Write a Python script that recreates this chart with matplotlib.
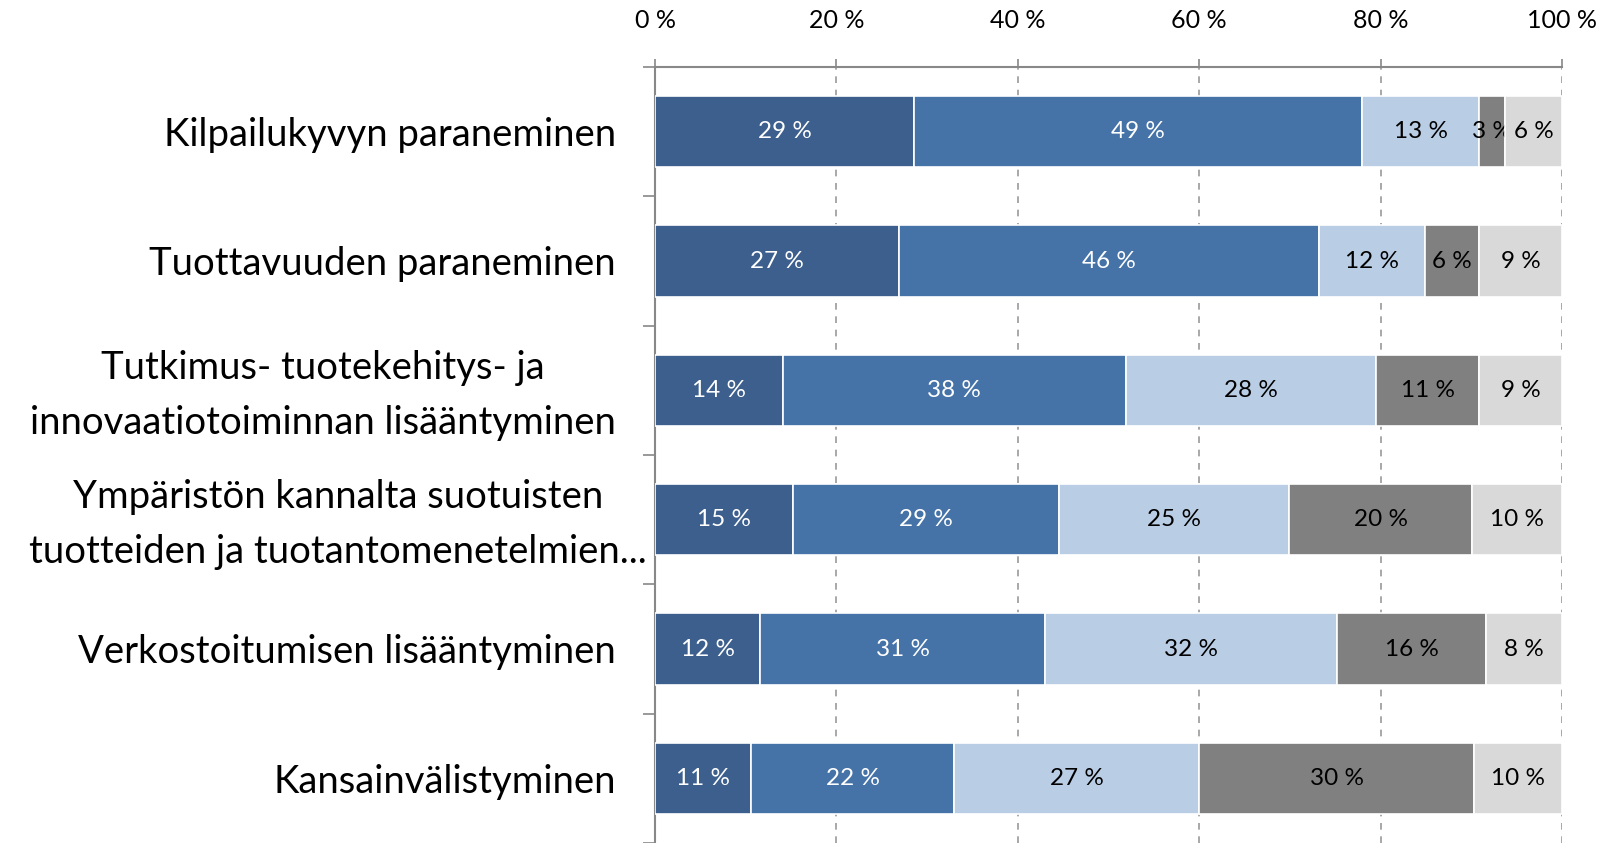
import matplotlib
matplotlib.use("Agg")
import matplotlib.pyplot as plt
import matplotlib.transforms as mtransforms
import numpy as np

plt.rcParams['font.family'] = ['Lato', 'DejaVu Sans']

categories = ["Kilpailukyvyn paraneminen",
              "Tuottavuuden paraneminen",
              "Tutkimus- tuotekehitys- ja\ninnovaatiotoiminnan lisääntyminen",
              "Ympäristön kannalta suotuisten\ntuotteiden ja tuotantomenetelmien...",
              "Verkostoitumisen lisääntyminen",
              "Kansainvälistyminen"]

# shares (%) per answer class
s1 = [28.6, 26.9, 14.1, 15.2, 11.6, 10.6]
s2 = [49.4, 46.3, 37.8, 29.3, 31.4, 22.4]
s3 = [12.9, 11.7, 27.6, 25.4, 32.2, 27.0]
s4 = [2.8, 6.0, 11.4, 20.2, 16.4, 30.3]
s5 = [6.3, 9.1, 9.1, 9.9, 8.4, 9.7]

series = [s1, s2, s3, s4, s5]
colors = ["#3C5F8D", "#4573A7", "#B9CDE5", "#808080", "#D9D9D9"]
text_colors = ["white", "white", "black", "black", "black"]

fig = plt.figure(figsize=(16.01, 8.43), dpi=100)
ax = fig.add_axes([655/1601, 0, (1562-655)/1601, 1-67/843])

y = np.arange(len(categories))
left = np.zeros(len(categories))
for vals, c, tc in zip(series, colors, text_colors):
    vals = np.array(vals)
    bars = ax.barh(y, vals, left=left, height=0.55, color=c,
                   edgecolor="white", linewidth=1.2, zorder=3)
    ax.bar_label(bars, labels=["%d %%" % round(v) for v in vals],
                 label_type="center", color=tc, fontsize=17.5)
    left += vals

ax.set_xlim(0, 100)
ax.set_ylim(len(categories) - 0.5, -0.5)
ax.xaxis.tick_top()
ax.set_xticks([0, 20, 40, 60, 80, 100])
ax.set_xticklabels(["%d %%" % t for t in [0, 20, 40, 60, 80, 100]], fontsize=18)
ax.tick_params(axis="x", direction="out", length=6, width=1.2, color="#888888", pad=19)

ax.set_yticks(y)
ax.set_yticklabels(categories, fontsize=27.5)
ax.tick_params(axis="y", which="major", length=0, pad=28)
ax.set_yticks(np.arange(-0.5, len(categories) + 0.5, 1), minor=True)
ax.tick_params(axis="y", which="minor", direction="out", length=9, width=1.2, color="#888888")
for i, lab in enumerate(ax.get_yticklabels()):
    lab.set_multialignment("center")
    lab.set_linespacing(1.65)
    if "\n" in categories[i]:
        # the cut label runs a bit past the others
        dx = 0.31 if categories[i].endswith("...") else 0
        lab.set_transform(lab.get_transform() +
                          mtransforms.ScaledTranslation(dx, 0.08, fig.dpi_scale_trans))

ax.grid(axis="x", linestyle=(0, (4, 4)), color="#999999", linewidth=1.2, zorder=0)
for s in ["right", "bottom"]:
    ax.spines[s].set_visible(False)
for s in ["left", "top"]:
    ax.spines[s].set_color("#888888")
    ax.spines[s].set_linewidth(1.5)

fig.savefig("out.png", dpi=100)
